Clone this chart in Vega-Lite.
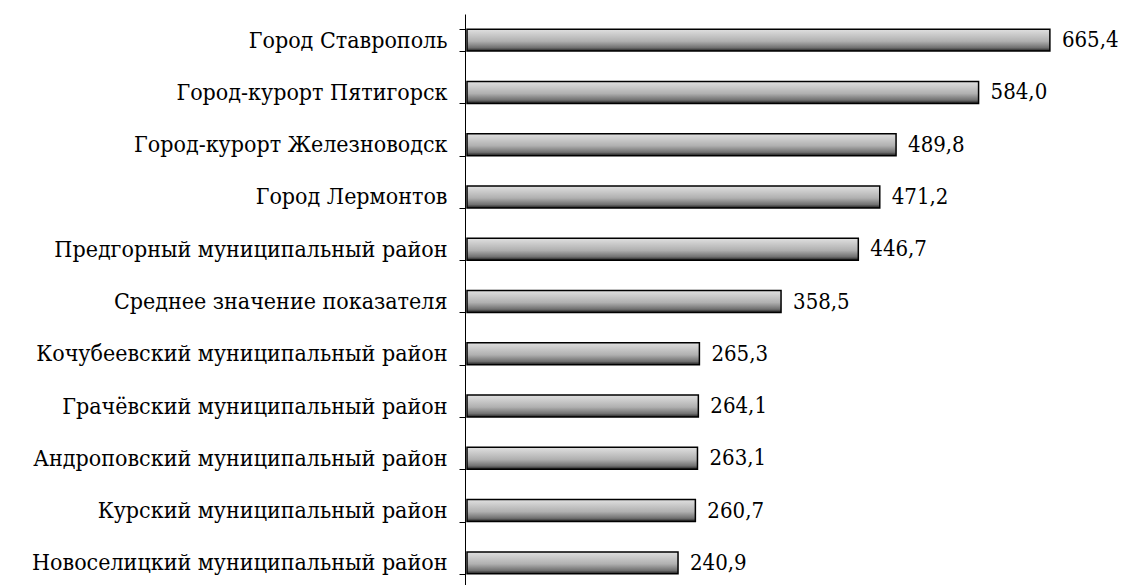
{
  "$schema": "https://vega.github.io/schema/vega-lite/v6.json",
  "width": 657,
  "height": 575,
  "autosize": "none",
  "padding": {"left": 465, "top": 14, "right": 0, "bottom": 0},
  "background": "white",
  "config": {
    "view": {"stroke": null},
    "locale": {"number": {"decimal": ",", "thousands": " ", "grouping": [3], "currency": ["", ""]}}
  },
  "data": {"values": [
    {"name": "Город Ставрополь", "value": 665.4},
    {"name": "Город-курорт Пятигорск", "value": 584.0},
    {"name": "Город-курорт Железноводск", "value": 489.8},
    {"name": "Город Лермонтов", "value": 471.2},
    {"name": "Предгорный муниципальный район", "value": 446.7},
    {"name": "Среднее значение показателя", "value": 358.5},
    {"name": "Кочубеевский муниципальный район", "value": 265.3},
    {"name": "Грачёвский муниципальный район", "value": 264.1},
    {"name": "Андроповский муниципальный район", "value": 263.1},
    {"name": "Курский муниципальный район", "value": 260.7},
    {"name": "Новоселицкий муниципальный район", "value": 240.9}
  ]},
  "encoding": {
    "y": {
      "field": "name", "type": "nominal", "sort": null,
      "scale": {"paddingInner": 0.58, "paddingOuter": 0.29},
      "axis": {
        "title": null, "domainColor": "black", "domainWidth": 1,
        "tickColor": "black", "tickSize": 6, "tickBand": "extent",
        "labelFont": "DejaVu Serif Condensed", "labelFontSize": 23, "labelColor": "black",
        "labelPadding": 12, "labelLimit": 500
      }
    },
    "x": {
      "field": "value", "type": "quantitative",
      "scale": {"domain": [0, 750]},
      "axis": null
    }
  },
  "layer": [
    {
      "mark": {
        "type": "bar", "stroke": "black", "strokeWidth": 1.5, "xOffset": 2,
        "color": {"gradient": "linear", "x1": 0, "y1": 0, "x2": 0, "y2": 1,
          "stops": [
            {"offset": 0, "color": "#e0e0e0"},
            {"offset": 0.55, "color": "#b0b0b0"},
            {"offset": 0.85, "color": "#707070"},
            {"offset": 1, "color": "#1a1a1a"}
          ]}
      }
    },
    {
      "mark": {"type": "text", "align": "left", "dx": 14, "font": "DejaVu Serif Condensed", "fontSize": 22, "color": "black"},
      "encoding": {"text": {"field": "value", "type": "quantitative", "format": ".1f"}}
    }
  ]
}
